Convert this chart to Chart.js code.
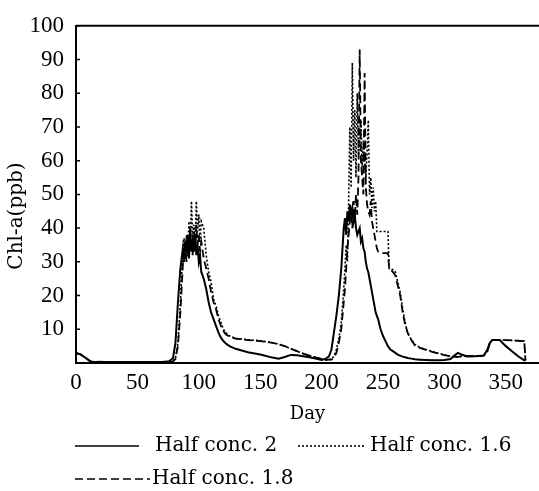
<!DOCTYPE html>
<html>
<head>
<meta charset="utf-8">
<script src="https://cdn.jsdelivr.net/npm/chart.js@4.4.0/dist/chart.umd.min.js"></script>
<style>
  body { margin: 0; background: #fff; }
  #wrap { width: 539px; height: 491px; }
</style>
</head>
<body>
<div id="wrap"><canvas id="myChart" width="539" height="491"></canvas></div>
<script>
// day of year
const days = [0, 4, 8, 12, 30, 50, 70, 76, 79, 81, 83, 85, 86, 87, 88, 89, 90, 91, 92, 93,
  94, 95, 96, 97, 98, 99, 100, 101, 102, 104, 106, 108, 110, 112, 114, 116, 118, 120, 122, 125,
  130, 140, 150, 160, 165, 170, 175, 180, 185, 190, 195, 200, 203, 206, 208, 210, 212, 214, 216, 218,
  219, 220, 221, 222, 223, 224, 225, 226, 227, 228, 229, 230, 231, 232, 233, 234, 235, 236, 237, 238,
  239, 240, 241, 242, 243, 244, 245, 246, 248, 250, 252, 254, 255, 256, 258, 260, 262, 264, 266, 268,
  270, 273, 276, 280, 285, 290, 295, 300, 305, 308, 311, 314, 318, 325, 332, 335, 337, 339, 345, 350,
  355, 360, 365, 366];

// Chl-a (ppb), half saturation conc. 2 (solid)
const halfConc2 = [3, 2.5, 1.5, 0.4, 0.3, 0.3, 0.3, 0.5, 1.5, 6, 18, 28, 31, 34, 30, 36, 33, 38, 31, 40,
  33, 36, 33, 38, 32, 35, 30, 32, 27, 25, 22, 18, 15, 13, 11, 9, 7.5, 6.5, 5.8, 5,
  4.2, 3.2, 2.5, 1.6, 1.3, 1.8, 2.4, 2.3, 2, 1.7, 1.3, 0.9, 1.2, 2, 4, 9, 14, 20, 28, 40,
  43, 38, 45, 42, 47, 44, 46, 42, 44, 40, 38, 39, 40, 36, 37, 34, 33, 30, 28, 27,
  25, 23, 21, 19, 17, 15, 14, 13, 10, 8, 6.5, 5, 4.5, 4, 3.5, 3, 2.5, 2.2, 1.9, 1.7,
  1.5, 1.3, 1.1, 1, 0.9, 0.8, 0.8, 0.9, 1.2, 2.2, 3, 2.5, 2, 2, 2.2, 4, 6, 6.8, 6.8, 5,
  3.5, 2, 0.8, 0.7];

// half saturation conc. 1.6 (dotted)
const halfConc16 = [3, 2.5, 1.5, 0.4, 0.3, 0.3, 0.3, 0.3, 0.5, 1.5, 6, 18, 26, 33, 37, 31, 38, 33, 42, 35,
  48, 37, 41, 36, 48, 39, 44, 36, 42, 40, 32, 27, 24, 19, 17, 14, 12, 10, 9, 8,
  7.3, 6.9, 6.6, 6, 5.6, 5, 4.2, 3.5, 2.8, 2.2, 1.7, 1.2, 0.9, 1, 1.2, 2, 4, 7, 12, 22,
  28, 35, 30, 48, 70, 52, 89, 60, 75, 55, 80, 62, 65, 72, 58, 66, 60, 55, 62, 72,
  50, 55, 46, 52, 45, 48, 39, 39, 39, 39, 39, 39, 28, 28, 27.7, 27, 24, 21, 16, 12,
  9, 7, 5.5, 4.6, 4, 3.4, 2.9, 2.4, 2, 1.8, 1.8, 2, 2, 2, 2.2, 3.5, 6, 6.8, 6.8, 6.8,
  6.7, 6.6, 6.5, 0.8];

// half saturation conc. 1.8 (dashed)
const halfConc18 = [3, 2.5, 1.5, 0.4, 0.3, 0.3, 0.3, 0.3, 0.5, 1.2, 5, 15, 22, 29, 33, 35, 30, 36, 33, 38,
  35, 32, 39, 34, 41, 35, 38, 33, 36, 31, 28, 25, 21, 18, 16, 13, 11, 9.5, 8.5, 7.8,
  7.2, 6.8, 6.5, 6, 5.6, 5, 4.2, 3.5, 2.8, 2.2, 1.7, 1.2, 0.9, 1, 1, 1.5, 3, 6, 10, 18,
  22, 28, 34, 38, 42, 46, 40, 48, 43, 50, 44, 55, 93, 60, 55, 50, 86, 52, 47, 45,
  44, 48, 42, 40, 38, 36, 34, 33, 32.6, 32.6, 32.6, 32.6, 28, 27.7, 27, 26, 23, 20, 15, 11.5,
  9, 6.8, 5.2, 4.5, 3.9, 3.3, 2.8, 2.3, 2, 1.8, 1.8, 2, 2, 2, 2.2, 3.5, 6, 6.8, 6.8, 6.8,
  6.7, 6.6, 6.5, 0.8];

const seriesNames = ["Half conc. 2", "Half conc. 1.6", "Half conc. 1.8"];
const xTicks = [0, 50, 100, 150, 200, 250, 300, 350];
const yTicks = [10, 20, 30, 40, 50, 60, 70, 80, 90, 100];

const serif = "'DejaVu Serif', serif";
const tickFont = { family: "'Liberation Serif', serif", size: 23 };

const toPoints = vals => vals.map((v, i) => ({ x: days[i], y: v }));

// top frame line and small inward y ticks (no right border in the original)
const frameLine = {
  id: 'frameLine',
  afterDraw(chart) {
    const { ctx, chartArea } = chart;
    const y = chart.scales.y;
    ctx.save();
    ctx.strokeStyle = '#000';
    ctx.lineWidth = 2;
    ctx.beginPath();
    ctx.moveTo(chartArea.left, chartArea.top);
    ctx.lineTo(chartArea.right, chartArea.top);
    ctx.stroke();
    ctx.lineWidth = 1.5;
    ctx.beginPath();
    y.ticks.forEach(t => {
      const py = y.getPixelForValue(t.value);
      ctx.moveTo(chartArea.left, py);
      ctx.lineTo(chartArea.left + 4, py);
    });
    ctx.stroke();
    ctx.restore();
  }
};

// y title sits a bit below the axis middle
const yTitle = {
  id: 'yTitle',
  afterDraw(chart) {
    const ctx = chart.ctx;
    ctx.save();
    ctx.translate(17, 216);
    ctx.rotate(-Math.PI / 2);
    ctx.fillStyle = '#000';
    ctx.font = "20px " + serif;
    ctx.textAlign = 'center';
    ctx.textBaseline = 'middle';
    ctx.fillText("Chl-a(ppb)", 0, 0);
    ctx.restore();
  }
};

// legend below the axis title, laid out like the scan
const legendSpots = [
  { x0: 75, x1: 139, tx: 155, y: 446 },
  { x0: 298, x1: 365, tx: 370, y: 446 },
  { x0: 75, x1: 150, tx: 152, y: 479 }
];
const customLegend = {
  id: 'customLegend',
  afterDraw(chart) {
    const ctx = chart.ctx;
    chart.data.datasets.forEach((ds, i) => {
      const s = legendSpots[i];
      ctx.save();
      ctx.strokeStyle = ds.borderColor;
      ctx.lineWidth = 1.6;
      ctx.setLineDash(ds.borderDash || []);
      ctx.beginPath();
      ctx.moveTo(s.x0, s.y);
      ctx.lineTo(s.x1, s.y);
      ctx.stroke();
      ctx.setLineDash([]);
      ctx.fillStyle = '#000';
      ctx.font = "20px " + serif;
      ctx.textBaseline = 'middle';
      ctx.fillText(ds.label, s.tx, s.y);
      ctx.restore();
    });
  }
};

new Chart("myChart", {
  type: "line",
  data: {
    datasets: [{
      label: seriesNames[0],
      data: toPoints(halfConc2),
      borderColor: "#000",
      borderWidth: 2
    }, {
      label: seriesNames[1],
      data: toPoints(halfConc16),
      borderColor: "#000",
      borderWidth: 1.6,
      borderDash: [2, 2]
    }, {
      label: seriesNames[2],
      data: toPoints(halfConc18),
      borderColor: "#000",
      borderWidth: 1.8,
      borderDash: [8, 4]
    }]
  },
  options: {
    responsive: false,
    animation: false,
    elements: { point: { radius: 0 }, line: { tension: 0 } },
    layout: { padding: { top: 17, right: 0, bottom: 66, left: 0 } },
    plugins: { legend: { display: false }, tooltip: { enabled: false } },
    scales: {
      x: {
        type: "linear",
        min: 0,
        max: 377,
        grid: { display: false, drawTicks: false },
        border: { color: "#000", width: 2 },
        afterBuildTicks: s => { s.ticks = xTicks.map(v => ({ value: v })); },
        afterFit: s => { s.height = 62; },
        ticks: { color: "#000", font: tickFont, padding: 6, maxRotation: 0 },
        title: { display: true, text: "Day", color: "#000", font: { family: serif, size: 18 }, padding: { top: 0, bottom: 0 } }
      },
      y: {
        min: 0,
        max: 100,
        grid: { display: false, drawTicks: false },
        border: { color: "#000", width: 2 },
        afterBuildTicks: s => { s.ticks = yTicks.map(v => ({ value: v })); },
        afterFit: s => { s.width = 76; },
        ticks: { color: "#000", font: tickFont, padding: 12 }
      }
    }
  },
  plugins: [frameLine, yTitle, customLegend]
});
</script>
</body>
</html>
